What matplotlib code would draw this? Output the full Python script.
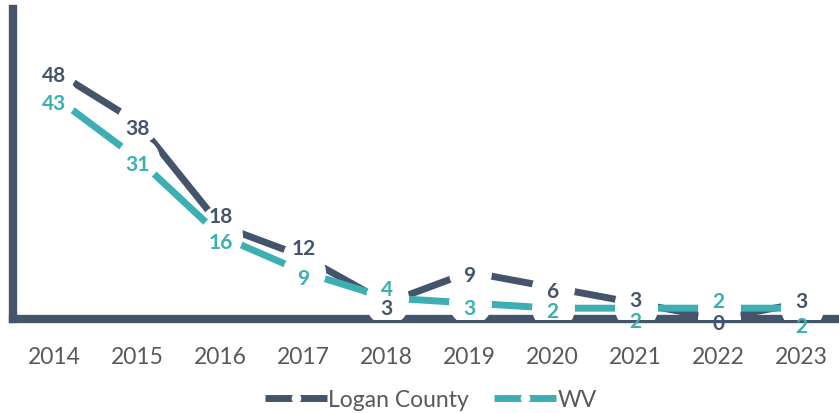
import matplotlib
matplotlib.use("Agg")
import matplotlib.pyplot as plt
from matplotlib.lines import Line2D

years = ["2014", "2015", "2016", "2017", "2018", "2019", "2020", "2021", "2022", "2023"]
logan = [48, 38, 18, 12, 3, 9, 6, 3, 0, 3]
wv = [43, 31, 16, 9, 4, 3, 2, 2, 2, 2]
series_names = ["Logan County", "WV"]

# label offsets in pixels (image-down positive), layout only
logan_off = [1, 3, -12, -11, 2, 0, 1, -6, 2, -5]
wv_off = [4, 3, 3, 3, -12, 2, 0, 10, -10, 15]

DARK = "#44546A"
TEAL = "#3DAEB1"
GRAY = "#595959"

plt.rcParams["font.family"] = ["Lato", "DejaVu Sans"]

W, H = 839, 414
fig = plt.figure(figsize=(W / 100, H / 100), dpi=100)
left = 13 / W
bottom = 1 - 319.5 / H
top = 1 - 10 / H
ax = fig.add_axes([left, bottom, 1 - left, top - bottom])

x = list(range(len(years)))
ax.plot(x, logan, color=DARK, lw=5, solid_capstyle="butt",
        marker="o", markersize=31, markerfacecolor="white",
        markeredgewidth=0, zorder=3)
ax.plot(x, wv, color=TEAL, lw=5, solid_capstyle="butt",
        marker="o", markersize=31, markerfacecolor="white",
        markeredgewidth=0, zorder=4)

for i in x:
    ax.annotate(str(logan[i]), (i, logan[i]), xytext=(0, -logan_off[i] * 0.72 - 2),
                textcoords="offset points", ha="center", va="center",
                fontsize=15, fontweight="bold", color=DARK, zorder=6)
    ax.annotate(str(wv[i]), (i, wv[i]), xytext=(0, -wv_off[i] * 0.72 - 2),
                textcoords="offset points", ha="center", va="center",
                fontsize=15, fontweight="bold", color=TEAL, zorder=6)

ax.set_xlim(-0.5, 9.45)
ax.set_ylim(0, 60)
ax.set_xticks(x)
ax.set_xticklabels(years)
ax.set_yticks([])
ax.tick_params(axis="x", length=0, labelsize=16.5, labelcolor=GRAY, pad=20)
for s in ["top", "right"]:
    ax.spines[s].set_visible(False)
for s in ["left", "bottom"]:
    ax.spines[s].set_linewidth(6)
    ax.spines[s].set_color(DARK)
ax.spines["bottom"].set_zorder(1)
ax.patch.set_visible(False)

handles = [
    Line2D([], [], color=DARK, lw=5, marker="o", markersize=7,
           markerfacecolor="white", markeredgewidth=0, solid_capstyle="butt"),
    Line2D([], [], color=TEAL, lw=5, marker="o", markersize=7,
           markerfacecolor="white", markeredgewidth=0, solid_capstyle="butt"),
]
fig.legend(handles, series_names, loc="center", bbox_to_anchor=(431 / W, 1 - 401 / H),
           ncol=2, frameon=False, fontsize=16.5, labelcolor=GRAY,
           handlelength=2.7, handletextpad=0.05, columnspacing=1.1)

fig.savefig("out.png", dpi=100)
